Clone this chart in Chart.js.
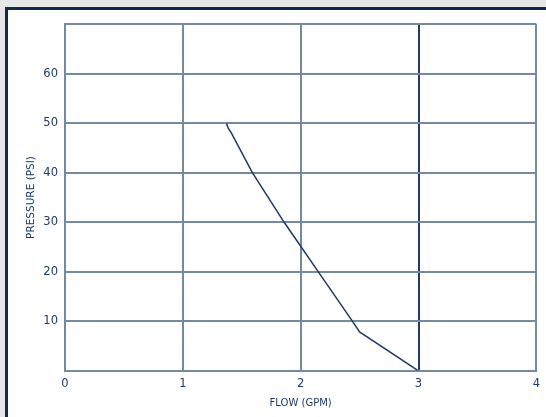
<!DOCTYPE html>
<html>
<head>
<meta charset="utf-8">
<script src="https://cdn.jsdelivr.net/npm/chart.js@4"></script>
<style>
  html, body { margin: 0; padding: 0; }
  body { width: 546px; height: 417px; background: #e6e6e6; position: relative; overflow: hidden; }
  #frame {
    position: absolute; left: 5px; top: 7px; width: 560px; height: 430px;
    background: #fff; border-left: 3px solid #0c2a52; border-top: 3px solid #0c2a52;
  }
  #wrap { position: absolute; left: 0; top: 0; width: 546px; height: 417px; }
</style>
</head>
<body>
<div id="frame"></div>
<div id="wrap"><canvas id="flow-chart" width="546" height="417"></canvas></div>
<script>
// flow (GPM) vs pressure (PSI)
const flow = [1.37, 1.385, 1.41, 1.59, 1.86, 2.15, 2.44, 2.50, 2.99];
const pressure = [50, 49.0, 48.1, 40, 30, 20, 10, 7.9, 0.2];
const xTicks = [0, 1, 2, 3, 4];
const yTicks = [10, 20, 30, 40, 50, 60];

const navy = '#1d3a64';
const gridColor = '#748aa3';

const points = flow.map((f, i) => ({ x: f, y: pressure[i] }));

const ctx = document.getElementById('flow-chart').getContext('2d');
const chart = new Chart(ctx, {
    type: 'line',
    data: {
        datasets: [{
            label: 'Pressure',
            data: points,
            borderColor: navy,
            borderWidth: 1.5,
            pointRadius: 0,
            tension: 0,
            fill: false
        }]
    },
    options: {
        responsive: false,
        animation: false,
        layout: { padding: { left: 0, top: 24, right: 8, bottom: 0 } },
        plugins: { legend: { display: false }, tooltip: { enabled: false } },
        scales: {
            x: {
                type: 'linear',
                min: 0,
                max: 4,
                afterBuildTicks: (scale) => { scale.ticks = xTicks.map(v => ({ value: v })); },
                afterFit: (scale) => { scale.height = 46; },
                grid: {
                    drawTicks: false,
                    lineWidth: 2,
                    color: (c) => c.tick && c.tick.value === 3 ? '#1f3b66' : gridColor
                },
                border: { color: gridColor, width: 2 },
                ticks: {
                    padding: 6,
                    color: navy,
                    font: { family: 'DejaVu Sans', size: 11.5 }
                },
                title: {
                    display: true,
                    text: 'FLOW (GPM)',
                    color: navy,
                    font: { family: 'DejaVu Sans', size: 10 },
                    padding: { top: 0, bottom: 8 }
                }
            },
            y: {
                min: 0,
                max: 70,
                afterBuildTicks: (scale) => {
                    scale.ticks = [0].concat(yTicks, [70]).map(v => ({ value: v }));
                },
                afterFit: (scale) => { scale.width = 65; },
                grid: { drawTicks: false, lineWidth: 2, color: gridColor },
                border: { color: gridColor, width: 2 },
                ticks: {
                    padding: 7,
                    color: navy,
                    font: { family: 'DejaVu Sans', size: 11.5 },
                    callback: (v) => yTicks.includes(v) ? v : ''
                },
                title: {
                    display: true,
                    text: 'PRESSURE (PSI)',
                    color: navy,
                    font: { family: 'DejaVu Sans', size: 10.5 },
                    padding: { top: 25, bottom: 0 }
                }
            }
        }
    }
});
</script>
</body>
</html>
